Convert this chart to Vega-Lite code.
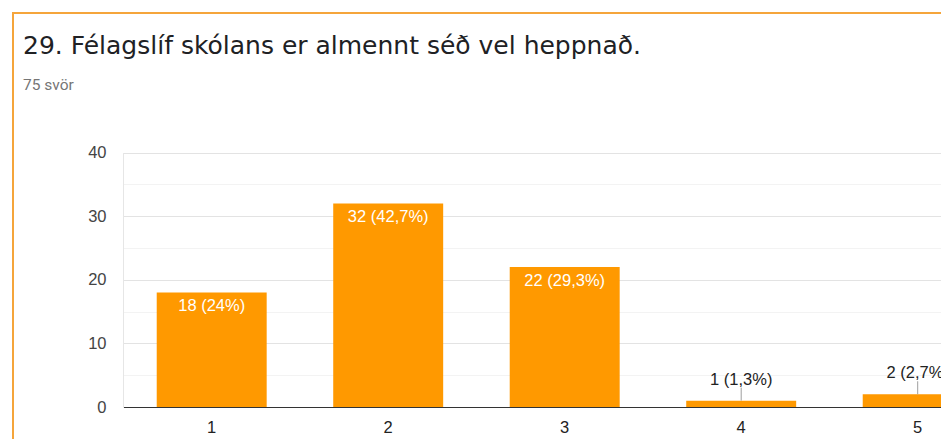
{
  "$schema": "https://vega.github.io/schema/vega-lite/v6.json",
  "autosize": {"type": "none"},
  "padding": {"left": 13, "top": 13, "right": -3, "bottom": -4},
  "width": 931,
  "height": 430,
  "background": "white",
  "title": {
    "text": "29. Félagslíf skólans er almennt séð vel heppnað.",
    "subtitle": "75 svör",
    "anchor": "start",
    "frame": "group",
    "offset": -80,
    "dx": 10,
    "font": "DejaVu Sans",
    "fontSize": 25,
    "fontWeight": "normal",
    "color": "#202124",
    "subtitleFont": "Roboto",
    "subtitleFontSize": 15.5,
    "subtitleColor": "#757575",
    "subtitlePadding": 19
  },
  "data": {
    "values": [
      {"option": "1", "count": 18, "label": "18 (24%)"},
      {"option": "2", "count": 32, "label": "32 (42,7%)"},
      {"option": "3", "count": 22, "label": "22 (29,3%)"},
      {"option": "4", "count": 1, "label": "1 (1,3%)"},
      {"option": "5", "count": 2, "label": "2 (2,7%)"}
    ]
  },
  "encoding": {
    "x": {
      "field": "option",
      "type": "nominal",
      "sort": null,
      "scale": {"range": [110.45, 992.95], "paddingInner": 0.377, "paddingOuter": 0.1885},
      "axis": {
        "title": null,
        "orient": "bottom",
        "offset": -36,
        "domainColor": "#333333",
        "domainWidth": 1,
        "ticks": false,
        "grid": false,
        "labelAngle": 0,
        "labelFont": "Liberation Sans",
        "labelFontSize": 16.5,
        "labelColor": "#222222",
        "labelPadding": 12
      }
    },
    "y": {
      "field": "count",
      "type": "quantitative",
      "scale": {"domain": [0, 40], "range": [394, 139.5], "nice": false},
      "axis": {
        "title": null,
        "offset": -110,
        "values": [0, 5, 10, 15, 20, 25, 30, 35, 40],
        "labelExpr": "datum.value % 10 === 0 ? datum.label : ''",
        "ticks": false,
        "domainColor": "#e6e6e6",
        "labelPadding": 17,
        "labelFont": "Liberation Sans",
        "labelFontSize": 16.5,
        "labelColor": "#444444",
        "gridColor": {"condition": {"test": "datum.value % 10 === 0", "value": "#e3e3e3"}, "value": "#f3f3f3"}
      }
    }
  },
  "layer": [
    {"mark": {"type": "bar", "color": "#ff9900"}},
    {
      "transform": [{"filter": "datum.count >= 10"}],
      "mark": {"type": "text", "color": "white", "baseline": "alphabetic", "dy": 19, "font": "Liberation Sans", "fontSize": 16.5},
      "encoding": {"text": {"field": "label"}}
    },
    {
      "transform": [{"filter": "datum.count < 10"}],
      "mark": {"type": "rule", "color": "#9e9e9e", "strokeWidth": 1, "y2Offset": -13},
      "encoding": {"y2": {"field": "count"}}
    },
    {
      "transform": [{"filter": "datum.count < 10"}],
      "mark": {"type": "text", "color": "#222222", "baseline": "alphabetic", "dy": -16, "font": "Liberation Sans", "fontSize": 16.5},
      "encoding": {"text": {"field": "label"}}
    }
  ],
  "config": {
    "view": {"stroke": "#f5a53b", "strokeWidth": 2}
  }
}
